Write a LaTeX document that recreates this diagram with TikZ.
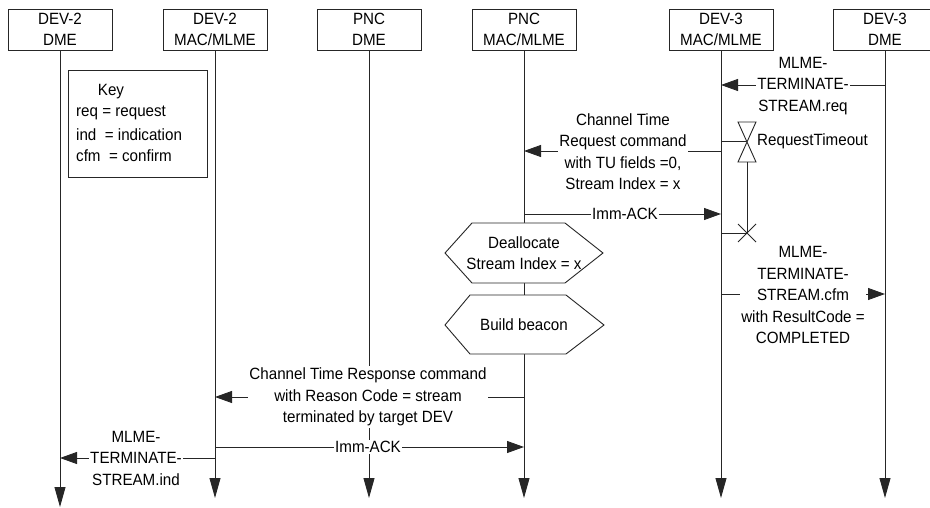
\documentclass[tikz,border=0pt]{standalone}
\usepackage{fontspec}
\setmainfont{Liberation Sans}[FakeStretch=0.93]
\usetikzlibrary{arrows.meta}
\newcommand{\diafont}{\fontsize{16.3}{21.5}\selectfont}
\begin{document}
\begin{tikzpicture}[x=1pt,y=-1pt,
  ln/.style={draw=black!85, line width=0.9pt},
  hdr/.style={draw=black!85, line width=0.9pt, minimum width=104pt, minimum height=41pt, align=center, inner sep=0pt, font=\fontsize{16.3}{21}\selectfont},
  lifeline/.style={ln, -{Triangle[length=20pt,width=11pt]}},
  msg/.style={ln, -{Triangle[length=17pt,width=12pt]}},
  lbl/.style={fill=white, inner sep=1.5pt, align=center, font=\diafont},
  plain/.style={inner sep=0pt, font=\diafont},
  hex/.style={ln, fill=white},
]
\useasboundingbox (0,0) rectangle (930,508);

% headers
\node[hdr] (h1) at (60,29.5) {DEV-2\\DME};
\node[hdr] (h2) at (215,29.5) {DEV-2\\MAC/MLME};
\node[hdr] (h3) at (369,29.5) {PNC\\DME};
\node[hdr] (h4) at (524,29.5) {PNC\\MAC/MLME};
\node[hdr] (h5) at (721,29.5) {DEV-3\\MAC/MLME};
\node[hdr] (h6) at (885,29.5) {DEV-3\\DME};

% lifeline ends
\coordinate (e1) at (60,507);
\coordinate (e2) at (215,498);
\coordinate (e3) at (369,498);
\coordinate (e4) at (524,498);
\coordinate (e5) at (721,498);
\coordinate (e6) at (885,498);
\draw[lifeline] (h1) -- (e1);
\draw[lifeline] (h2) -- (e2);
\draw[lifeline] (h3) -- (e3);
\draw[lifeline] (h4) -- (e4);
\draw[lifeline] (h5) -- (e5);
\draw[lifeline] (h6) -- (e6);

% key
\node[ln, draw, minimum width=139pt, minimum height=107pt, fill=white] (key) at (137.5,123.5) {};
\node[plain] (keyt) at (111,92) {Key};
\node[plain, anchor=west] (k1) at (76,113) {req = request};
\node[plain, anchor=west] (k2) at (76,134.5) {ind \ = indication};
\node[plain, anchor=west] (k3) at (76,156) {cfm \ = confirm};

% message coordinates
\coordinate (m1a) at (885,85);  \coordinate (m1b) at (721,85);
\coordinate (m2a) at (721,151); \coordinate (m2b) at (524,151);
\coordinate (m3a) at (524,214); \coordinate (m3b) at (721,214);
\coordinate (m4a) at (721,294); \coordinate (m4b) at (885,294);
\coordinate (m5a) at (524,397); \coordinate (m5b) at (215,397);
\coordinate (m6a) at (215,447); \coordinate (m6b) at (524,447);
\coordinate (m7a) at (215,458); \coordinate (m7b) at (60,458);

\draw[msg] (m1a) -- (m1b);
\draw[msg] (m2a) -- (m2b);
\draw[msg] (m3a) -- (m3b);
\draw[msg] (m4a) -- (m4b);
\draw[msg] (m5a) -- (m5b);
\draw[msg] (m6a) -- (m6b);
\draw[msg] (m7a) -- (m7b);

% labels
\node[lbl] (l1) at (803,86) {MLME-\\TERMINATE-\\STREAM.req};
\node[lbl] (l2) at (623,151.5) {Channel Time\\Request command\\with TU fields =0,\\Stream Index = x};
\node[lbl] (l3) at (625,214) {Imm-ACK};
\node[lbl] (l4) at (803,295) {MLME-\\TERMINATE-\\STREAM.cfm\\with ResultCode =\\COMPLETED};
\node[lbl] (l5) at (368,397) {Channel Time Response command\\with Reason Code = stream\\terminated by target DEV};
\node[lbl] (l6) at (368,447) {Imm-ACK};
\node[lbl] (l7) at (136,458) {MLME-\\TERMINATE-\\STREAM.ind};

% timer
\coordinate (t0) at (721,141);
\coordinate (tc) at (747,141);
\draw[ln] (t0) -- (tc);
\draw[ln, fill=white] (738,122) -- (756,122) -- (738,162) -- (756,162) -- cycle;
\coordinate (tb) at (747,162);
\coordinate (tx) at (747,233);
\coordinate (tl) at (721,233);
\draw[ln] (tb) -- (tx);
\draw[ln] (tl) -- (tx);
\draw[ln] (738,224) -- (756,242) (738,242) -- (756,224);
\node[plain, anchor=west] (rt) at (757,141) {RequestTimeout};

% actions
\draw[hex] (445,253) -- (472,223) -- (565,223) -- (603,253) -- (565,283) -- (472,283) -- cycle;
\node[plain, align=center] (dealloc) at (524,253) {Deallocate\\Stream Index = x};
\draw[hex] (445,325) -- (470,295) -- (566,295) -- (604,325) -- (566,354) -- (470,354) -- cycle;
\node[plain] (beacon) at (524,325) {Build beacon};
\end{tikzpicture}
\end{document}
